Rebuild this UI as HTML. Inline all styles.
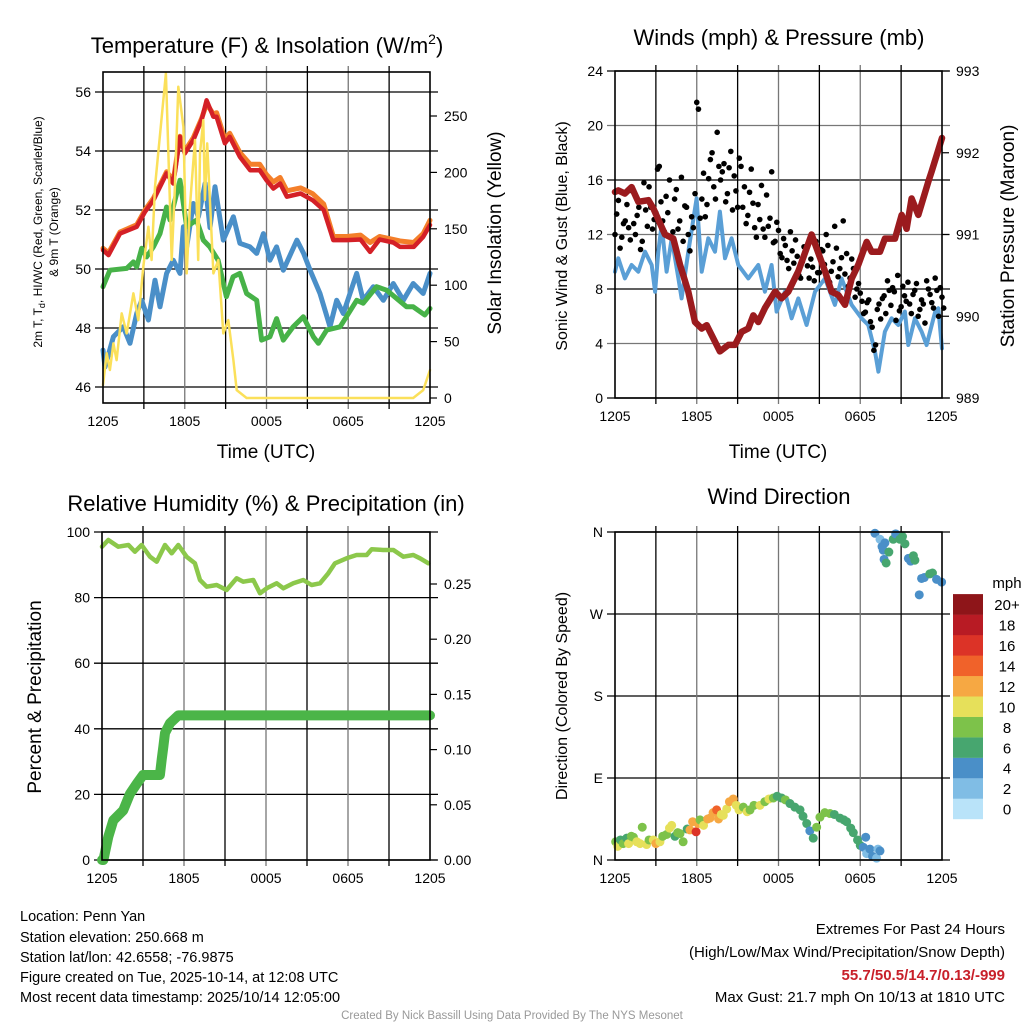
<!DOCTYPE html>
<html><head><meta charset="utf-8">
<style>
html,body{margin:0;padding:0;background:#fff;}
svg{display:block;font-family:"Liberation Sans",sans-serif;}
</style></head>
<body>
<svg id="c" width="1024" height="1024" viewBox="0 0 1024 1024">
<g id="grid"></g>
<g id="marks"></g>
<g id="frames"></g>
<g id="texts" font-family="Liberation Sans, sans-serif" fill="#000">
 <text x="267" y="53" font-size="22" text-anchor="middle">Temperature (F) &amp; Insolation (W/m<tspan font-size="14" dy="-9">2</tspan><tspan dy="9">)</tspan></text>
 <text x="779" y="45" font-size="22" text-anchor="middle">Winds (mph) &amp; Pressure (mb)</text>
 <text x="266" y="511" font-size="22" text-anchor="middle">Relative Humidity (%) &amp; Precipitation (in)</text>
 <text x="779" y="504" font-size="22" text-anchor="middle">Wind Direction</text>
 <text x="266" y="458" font-size="19" text-anchor="middle">Time (UTC)</text>
 <text x="778" y="458" font-size="19" text-anchor="middle">Time (UTC)</text>
 <text transform="translate(42,232) rotate(-90)" font-size="12" text-anchor="middle">2m T, T<tspan font-size="9" dy="3">d</tspan><tspan dy="-3">, HI/WC (Red, Green, Scarlet/Blue)</tspan></text>
 <text transform="translate(58,232) rotate(-90)" font-size="12" text-anchor="middle">&amp; 9m T (Orange)</text>
 <text transform="translate(501,233) rotate(-90)" font-size="19" text-anchor="middle">Solar Insolation (Yellow)</text>
 <text transform="translate(567,236) rotate(-90)" font-size="16" text-anchor="middle">Sonic Wind &amp; Gust (Blue, Black)</text>
 <text transform="translate(1014,236) rotate(-90)" font-size="19" text-anchor="middle">Station Pressure (Maroon)</text>
 <text transform="translate(41,697) rotate(-90)" font-size="19" text-anchor="middle">Percent &amp; Precipitation</text>
 <text transform="translate(567,696) rotate(-90)" font-size="16" text-anchor="middle">Direction (Colored By Speed)</text>
 <g font-size="14.5">
  <text x="20" y="921">Location: Penn Yan</text>
  <text x="20" y="942">Station elevation: 250.668 m</text>
  <text x="20" y="962">Station lat/lon: 42.6558; -76.9875</text>
  <text x="20" y="982">Figure created on Tue, 2025-10-14, at 12:08 UTC</text>
  <text x="20" y="1002">Most recent data timestamp: 2025/10/14 12:05:00</text>
 </g>
 <g font-size="15" text-anchor="end">
  <text x="1005" y="934">Extremes For Past 24 Hours</text>
  <text x="1005" y="957">(High/Low/Max Wind/Precipitation/Snow Depth)</text>
  <text x="1005" y="980" fill="#c8202a" font-weight="bold">55.7/50.5/14.7/0.13/-999</text>
  <text x="1005" y="1002">Max Gust: 21.7 mph On 10/13 at 1810 UTC</text>
 </g>
 <text x="512" y="1019" font-size="11.5" fill="#999" text-anchor="middle">Created By Nick Bassill Using Data Provided By The NYS Mesonet</text>
 <text x="1007" y="588" font-size="15" text-anchor="middle">mph</text>
</g>
</svg>
<script>
// ---- Temperature panel data ----
const tempHours = [0,0.4,1.25,2.47,3.08,3.7,4.67,5.16,5.65,6.0,6.63,7.24,7.6,8.1,8.34,8.95,9.3,10.05,10.8,11.5,12.0,12.5,13.0,13.5,14.5,15.4,16.2,16.9,17.9,18.9,19.6,20.3,21.3,21.8,22.8,23.5,24];
const tempValues = [50.64,50.47,51.2,51.43,51.94,52.33,53.24,52.9,54.48,53.92,54.37,55.05,55.72,55.16,55.16,54.26,54.48,53.8,53.35,53.35,53.01,52.73,52.9,52.45,52.56,52.33,52.0,50.98,50.98,51.0,50.58,51.0,50.9,50.75,50.75,51.09,51.49];
const temp9mValues = [50.7,50.55,51.25,51.5,52.0,52.4,53.3,53.0,54.5,54.0,54.45,55.1,55.6,55.25,55.3,54.4,54.6,53.95,53.55,53.55,53.2,52.95,53.1,52.65,52.75,52.55,52.2,51.1,51.1,51.15,50.9,51.1,51.0,50.95,50.9,51.2,51.65];
const dewHours = [0,0.51,1.74,2.23,2.47,2.84,3.2,3.7,4.18,4.67,4.92,5.65,6.14,6.87,7.36,7.84,8.45,9.06,9.55,10.05,10.54,11.28,11.64,12.25,12.74,13.23,13.96,14.7,15.44,15.81,16.42,17.4,18.62,19.1,20.08,20.82,22.28,22.77,23.62,24];
const dewValues = [49.4,49.96,50.02,50.24,50.07,50.7,50.41,50.75,51.2,52.1,51.66,53.01,51.43,51.66,50.98,50.75,50.3,49.06,49.74,49.85,49.17,48.94,47.59,47.7,48.32,47.59,48.04,48.38,47.7,47.48,47.93,48.04,48.94,48.84,49.4,49.28,48.72,48.72,48.44,48.66];
const chillHours = [0,0.15,0.76,1.49,1.98,2.47,2.84,3.33,3.82,4.18,4.67,5.16,5.65,5.9,6.14,6.63,7.0,7.49,7.85,8.22,8.83,9.57,10.05,10.79,11.28,11.77,12.25,12.74,13.23,14.23,14.72,15.2,15.93,16.66,17.15,17.64,18.62,19.1,19.84,20.57,21.31,22.04,22.77,23.5,24];
const chillValues = [47.25,46.68,47.7,48.04,47.48,48.49,48.94,48.27,49.62,48.72,49.85,50.3,49.85,51.43,50.75,52.22,51.77,52.9,51.4,52.79,50.98,51.77,50.87,50.75,50.53,51.2,50.3,50.75,49.96,50.98,50.53,49.96,49.17,48.04,48.94,48.49,49.85,48.94,49.4,48.94,49.51,48.94,49.51,49.17,49.85];
const solarHours = [0,0.27,0.51,0.76,1.0,1.37,1.74,2.23,2.59,2.96,3.33,3.57,3.82,4.62,5.04,5.28,5.53,5.9,6.14,6.38,6.75,6.99,7.12,7.36,7.48,7.65,8.1,8.46,8.83,9.2,9.57,9.81,10.54,22.77,23.5,24];
const solarValues = [11.5,39.6,24.8,48.4,33.6,75,57.3,92.8,69.1,116.4,151.8,122.3,187.3,287.8,122.3,187.3,276,240.5,110.5,169.6,228.7,122.3,216.9,246.4,175.5,225.7,110.5,122.3,57.3,69.1,33.6,7,0,0,7,24.8];
const tempTicks = [46,48,50,52,54,56];
const solarTicks = [0,50,100,150,200,250];
const timeTickLabels = ["1205","1805","0005","0605","1205"];

// ---- Winds panel data ----
const presHours = [0,0.24,0.73,1.22,1.71,2.45,2.81,3.67,4.28,4.77,5.38,5.87,6.36,6.73,7.7,8.32,8.81,9.3,9.78,10.15,10.52,11.0,11.74,12.23,12.72,13.45,14.43,15.41,15.9,16.39,16.88,17.37,17.86,18.47,18.83,19.45,19.81,20.55,21.04,21.4,21.77,22.26,23.0,23.24,24];
const presValues = [991.52,991.54,991.5,991.58,991.4,991.42,991.32,991.0,990.95,990.63,990.3,989.93,989.85,989.89,989.57,989.65,989.65,989.81,989.85,990.01,989.93,990.1,990.3,990.22,990.3,990.55,991.0,990.55,990.3,990.26,990.14,990.46,990.63,990.91,990.79,990.79,990.95,990.95,991.24,991.07,991.44,991.24,991.65,991.77,992.18];
const sonicHours = [0,0.24,0.73,1.22,1.71,2.2,2.69,2.94,3.18,3.42,3.79,4.16,4.65,4.89,5.38,5.99,6.36,6.85,7.34,7.7,8.07,8.56,9.05,9.78,10.52,11.0,11.49,11.86,12.47,12.96,13.45,14.06,14.68,15.41,16.14,16.63,17.37,18.1,18.59,19.08,19.33,19.81,20.3,20.79,21.28,21.53,22.01,22.5,22.87,23.5,23.73,24];
const sonicValues = [9.27,10.25,8.78,9.76,9.27,10.74,9.76,7.8,10.74,12.7,9.27,11.72,8.78,7.31,10.74,14.65,9.27,11.72,10.74,13.68,10.25,11.72,9.76,8.78,9.76,7.8,9.76,6.34,7.8,5.85,7.31,5.36,7.8,8.78,6.83,8.78,6.83,5.85,5.36,3.4,1.93,4.87,5.85,5.36,6.34,3.89,5.85,4.87,3.89,6.34,6.58,3.64];
const gustValues = [12,14.5,11.8,13,12.5,15.2,12,14,11.5,13.8,15.5,12.4,13.6,17,13,14.8,16,12.2,15.3,13,11.5,14,10.8,12.5,21.7,13.2,16.5,14.2,17.5,15.5,19.5,16,17.2,15,18.1,16.3,14,17,15.5,13.4,16.8,12.5,14.2,15.6,11.8,12.6,16.6,11.5,12.3,10.3,11.2,9.5,10.8,11.6,9.0,10,10.8,8.8,9.6,11.5,9.2,10.8,12,8.5,10,11,9.5,13,10.6,8.8,9.5,8,7.7,6.2,7,5.6,3.5,6.5,5.8,7.5,8.6,6.8,7.8,9,6.7,7.5,8.5,6.2,7.9,6,7.2,5.5,8,7,8.8,6,7.4];
const gustValues2 = [13.5,11,12.8,14.2,11.6,12.8,13.4,10.9,15.8,12.6,14,13.1,16.8,14.4,12.2,13.6,11.8,14.6,12.4,16.2,14.1,12,13.3,15,21.2,14.6,13.3,16.1,18,14.6,17,16.6,14.4,16.9,13.8,15.2,17.6,14,12.8,15.1,14.3,11.8,13.1,12.4,14.9,13.2,11.4,12.9,10.6,11.7,10.1,12.2,9.9,10.4,8.8,11.1,9.7,10.2,8.6,9.2,10.9,9.8,11.2,9.3,12.6,8.9,10.3,9.1,8.2,10.2,7.4,8.4,7.1,6.3,7.2,5.2,3.9,6.9,7.3,6.2,7.9,8.1,5.7,6.4,8.2,7.1,6.9,7.6,8.4,6.5,6.9,8.6,7.6,6.6,7.9,8.1,6.6];
const windTicks = [0,4,8,12,16,20,24];
const presTicks = [989,990,991,992,993];

// ---- Humidity panel data ----
const rhHours = [0,0.46,1.19,1.93,2.41,2.9,3.51,4.0,4.61,5.1,5.58,6.19,6.8,7.17,7.66,8.39,9.12,9.85,10.34,11.07,11.56,12.05,12.78,13.27,14.0,14.73,15.34,15.95,16.56,17.05,17.9,18.63,19.37,19.73,20.59,21.32,22.05,22.78,23.27,23.88];
const rhValues = [95.53,97.56,95.53,96.04,94.0,96.04,92.48,90.96,96.04,93.5,96.04,92.48,90.45,85.37,83.33,83.84,82.32,85.88,84.86,85.37,81.3,82.83,84.35,82.83,84.35,85.37,83.84,84.35,87.4,90.45,91.97,92.99,92.99,94.72,94.51,94.51,92.48,92.99,91.97,90.45];
const precipHours = [0,0.1,0.46,0.83,1.56,2.05,2.54,3.0,4.24,4.37,4.49,4.61,4.98,5.58,24];
const precipValues = [0,0,0.021,0.036,0.045,0.06,0.069,0.077,0.077,0.091,0.103,0.115,0.124,0.131,0.131];
const rhTicks = [0,20,40,60,80,100];
const precipTicks = [0,0.05,0.10,0.15,0.20,0.25];

// ---- Wind direction data ----
const dirHours = [0.05,0.2,0.4,0.6,0.86,1.0,1.2,1.35,1.6,1.84,2.0,2.32,2.5,2.81,3.0,3.3,3.5,3.79,4.0,4.16,4.4,4.6,4.77,5.0,5.3,5.5,5.7,5.95,6.1,6.24,6.5,6.8,6.97,7.2,7.46,7.6,7.8,7.95,8.2,8.4,8.68,8.9,9.1,9.42,9.7,9.91,10.2,10.64,11.0,11.3,11.62,11.9,12.23,12.5,12.84,13.2,13.58,13.8,14.07,14.3,14.55,14.8,15.04,15.4,15.78,16.1,16.51,16.8,17.0,17.3,17.49,17.8,18.0,18.22,18.4,18.47,18.71,18.9,19.2,19.3,19.45,19.08,19.45,19.6,19.69,19.81,19.75,19.9,20.1,20.42,20.6,20.91,21.1,21.28,21.53,21.7,22.01,21.9,22.33,22.5,22.7,23.1,23.3,23.6,23.97];
const dirDeg = [20,15,22,18,24,18,26,25,20,18,36,17,22,22,18,20,26,28,35,38,26,30,29,20,34,33,42,31,40,44,38,45,46,52,55,45,50,49,56,64,67,60,55,58,53,55,60,60,64,67,68,70,68,66,62,58,55,48,40,32,24,36,47,52,51,50,46,44,42,35,30,22,16,14,25,7,12,4,2,12,10,358.6,352,344,340,348,330,326,338,352,358,352,355,347,331,328,329,334,291,309,310,314,315,308,305];
const dirSpeed = [9,10,7,8,7,10,8,9,10,10,8,10,9,11,12,10,9,8,10,10,6,8,8,8,7,12,12,16,12,9,10,12,13,12,14,12,10,10,11,12,12,10,10,9,10,8,9,10,9,10,8,7,6,8,6,7,6,6,6,5,6,8,8,8,8,7,6,6,6,6,6,6,6,4,4,3,4,4,2,2,4,4,2,4,4,4,4,6,6,7,4,6,6,6,4,4,6,6,4,4,4,6,6,4,4];
const dirTickLabels = ["N","E","S","W","N"];
const speedBinLabels = ["0","2","4","6","8","10","12","14","16","18","20+"];
const speedBinColors = ["#b9e3f9","#80bde5","#4a8fc8","#47a66f","#7dc24a","#e6e05a","#f6a843","#f0622a","#dc3327","#b81b24","#8e1519"];

const NS="http://www.w3.org/2000/svg";
const G=document.getElementById('grid'),M=document.getElementById('marks'),F=document.getElementById('frames'),T=document.getElementById('texts');
function mk(tag,attrs,parent){const e=document.createElementNS(NS,tag);for(const k in attrs)e.setAttribute(k,attrs[k]);parent.appendChild(e);return e;}
function txt(x,y,s,size,anchor,parent){const e=mk('text',{x:x,y:y,'font-size':size,'text-anchor':anchor},parent);e.textContent=s;return e;}

function panel(x0,y0,w,h){
  const p={x0,y0,w,h};
  p.x=t=>x0+t/24*w;
  return p;
}
function linScale(v0,v1,p0,p1){return v=>p0+(v-v0)/(v1-v0)*(p1-p0);}
function drawFrame(p,name){
  for(let i=1;i<8;i++){const X=p.x(i*3);
    const l=mk('line',{x1:X,y1:p.y0-6,x2:X,y2:p.y0+p.h+6,stroke:i%2?'#000':'#777','stroke-width':1.3},G);
    
    }
  const r=mk('rect',{x:p.x0,y:p.y0,width:p.w,height:p.h,fill:'none',stroke:'#000','stroke-width':1.6},F);
  
  
  [0,6,12,18,24].forEach((t,i)=>{
    const e=txt(p.x(t),p.y0+p.h+23,timeTickLabels[i],14,'middle',T);
    
    
  });
}
function hgrid(p,y,name,col){
  const l=mk('line',{x1:p.x0-8,y1:y,x2:p.x0+p.w+8,y2:y,stroke:col||'#000','stroke-width':1.3},G);
  
  
}
function poly(p,hs,vs,ys,stroke,sw,name){
  const pts=hs.map((t,i)=>p.x(t).toFixed(1)+','+ys(vs[i]).toFixed(1)).join(' ');
  const e=mk('polyline',{points:pts,fill:'none',stroke:stroke,'stroke-width':sw,'stroke-linejoin':'round','stroke-linecap':'round'},M);
  
  
  return e;
}
function rightTick(p,y,label,name){
  mk('line',{x1:p.x0+p.w,y1:y,x2:p.x0+p.w+7,y2:y,stroke:'#000','stroke-width':1.2},G);
  const e=txt(p.x0+p.w+14,y+5,label,14,'start',T);
  
  
}
function leftTick(p,y,label,name){
  const e=txt(p.x0-12,y+5,label,14,'end',T);
  
  
}

// Temperature panel
const P1=panel(103,72,327,331);
const yT=linScale(46,56,387,92), yS=linScale(0,250,398,116);
tempTicks.forEach(v=>{hgrid(P1,yT(v),'temp-hgrid');leftTick(P1,yT(v),String(v),'temp-y-tick-label');});
solarTicks.forEach(v=>rightTick(P1,yS(v),String(v),'solar-y-tick-label'));
drawFrame(P1,'temp');
poly(P1,chillHours,chillValues,yT,'#4a8fc8',5,'windchill-line');
poly(P1,dewHours,dewValues,yT,'#47b248',5,'dewpoint-line');
poly(P1,tempHours,temp9mValues,yT,'#f47f2a',5,'temp-9m-line');
poly(P1,tempHours,tempValues,yT,'#d42027',4.5,'temp-2m-line');
poly(P1,solarHours,solarValues,yS,'#fbe05a',2.5,'insolation-line');

// Winds panel
const P2=panel(615,71,327,327);
const yW=linScale(0,24,398,71), yP=linScale(989,993,398,71);
windTicks.forEach(v=>{hgrid(P2,yW(v),'wind-hgrid',v%8===0?'#000':'#777');leftTick(P2,yW(v),String(v),'wind-y-tick-label');});
presTicks.forEach(v=>rightTick(P2,yP(v),String(v),'pressure-y-tick-label'));
drawFrame(P2,'wind');
poly(P2,sonicHours,sonicValues,yW,'#5a9fd6',4,'sonic-wind-line');
gustValues.forEach((v,i)=>{
  const d=mk('circle',{cx:P2.x(i*0.25),cy:yW(v),r:2.8,fill:'#000'},M);
  
  
});
gustValues2.forEach((v,i)=>{
  const d=mk('circle',{cx:P2.x(0.125+i*0.25),cy:yW(v),r:2.8,fill:'#000'},M);
  
  
});
poly(P2,presHours,presValues,yP,'#9b1b1e',6.5,'pressure-line');

// Humidity panel
const P3=panel(102,532,328,328);
const yR=linScale(0,100,860,532), yQ=linScale(0,0.05,860,804.8);
rhTicks.forEach(v=>{hgrid(P3,yR(v),'rh-hgrid');leftTick(P3,yR(v),String(v),'rh-y-tick-label');});
precipTicks.forEach(v=>rightTick(P3,yQ(v),v.toFixed(2),'precip-y-tick-label'));
drawFrame(P3,'rh');
poly(P3,rhHours,rhValues,yR,'#8cc84b',4.5,'rh-line');
poly(P3,precipHours,precipValues,yQ,'#4bb548',10,'precip-line');

// Wind direction panel
const P4=panel(615,532,327,328);
const yD=linScale(0,360,860,532);
[0,90,180,270,360].forEach((v,i)=>{hgrid(P4,yD(v),'dir-hgrid');leftTick(P4,yD(v),dirTickLabels[i],'dir-y-tick-label');});
drawFrame(P4,'dir');
dirHours.forEach((t,i)=>{
  const b=Math.min(10,Math.floor(dirSpeed[i]/2));
  const d=mk('circle',{cx:P4.x(t),cy:yD(dirDeg[i]),r:4.5,fill:speedBinColors[b]},M);
  
  
});
// colorbar
speedBinLabels.forEach((lab,i)=>{
  const y=798.6-i*20.45;
  const r=mk('rect',{x:953,y:y,width:30,height:20.6,fill:speedBinColors[i]},F);
  
  
  const e=txt(1007,y+16,lab,15,'middle',T);
  
  
});
</script>
</body></html>
